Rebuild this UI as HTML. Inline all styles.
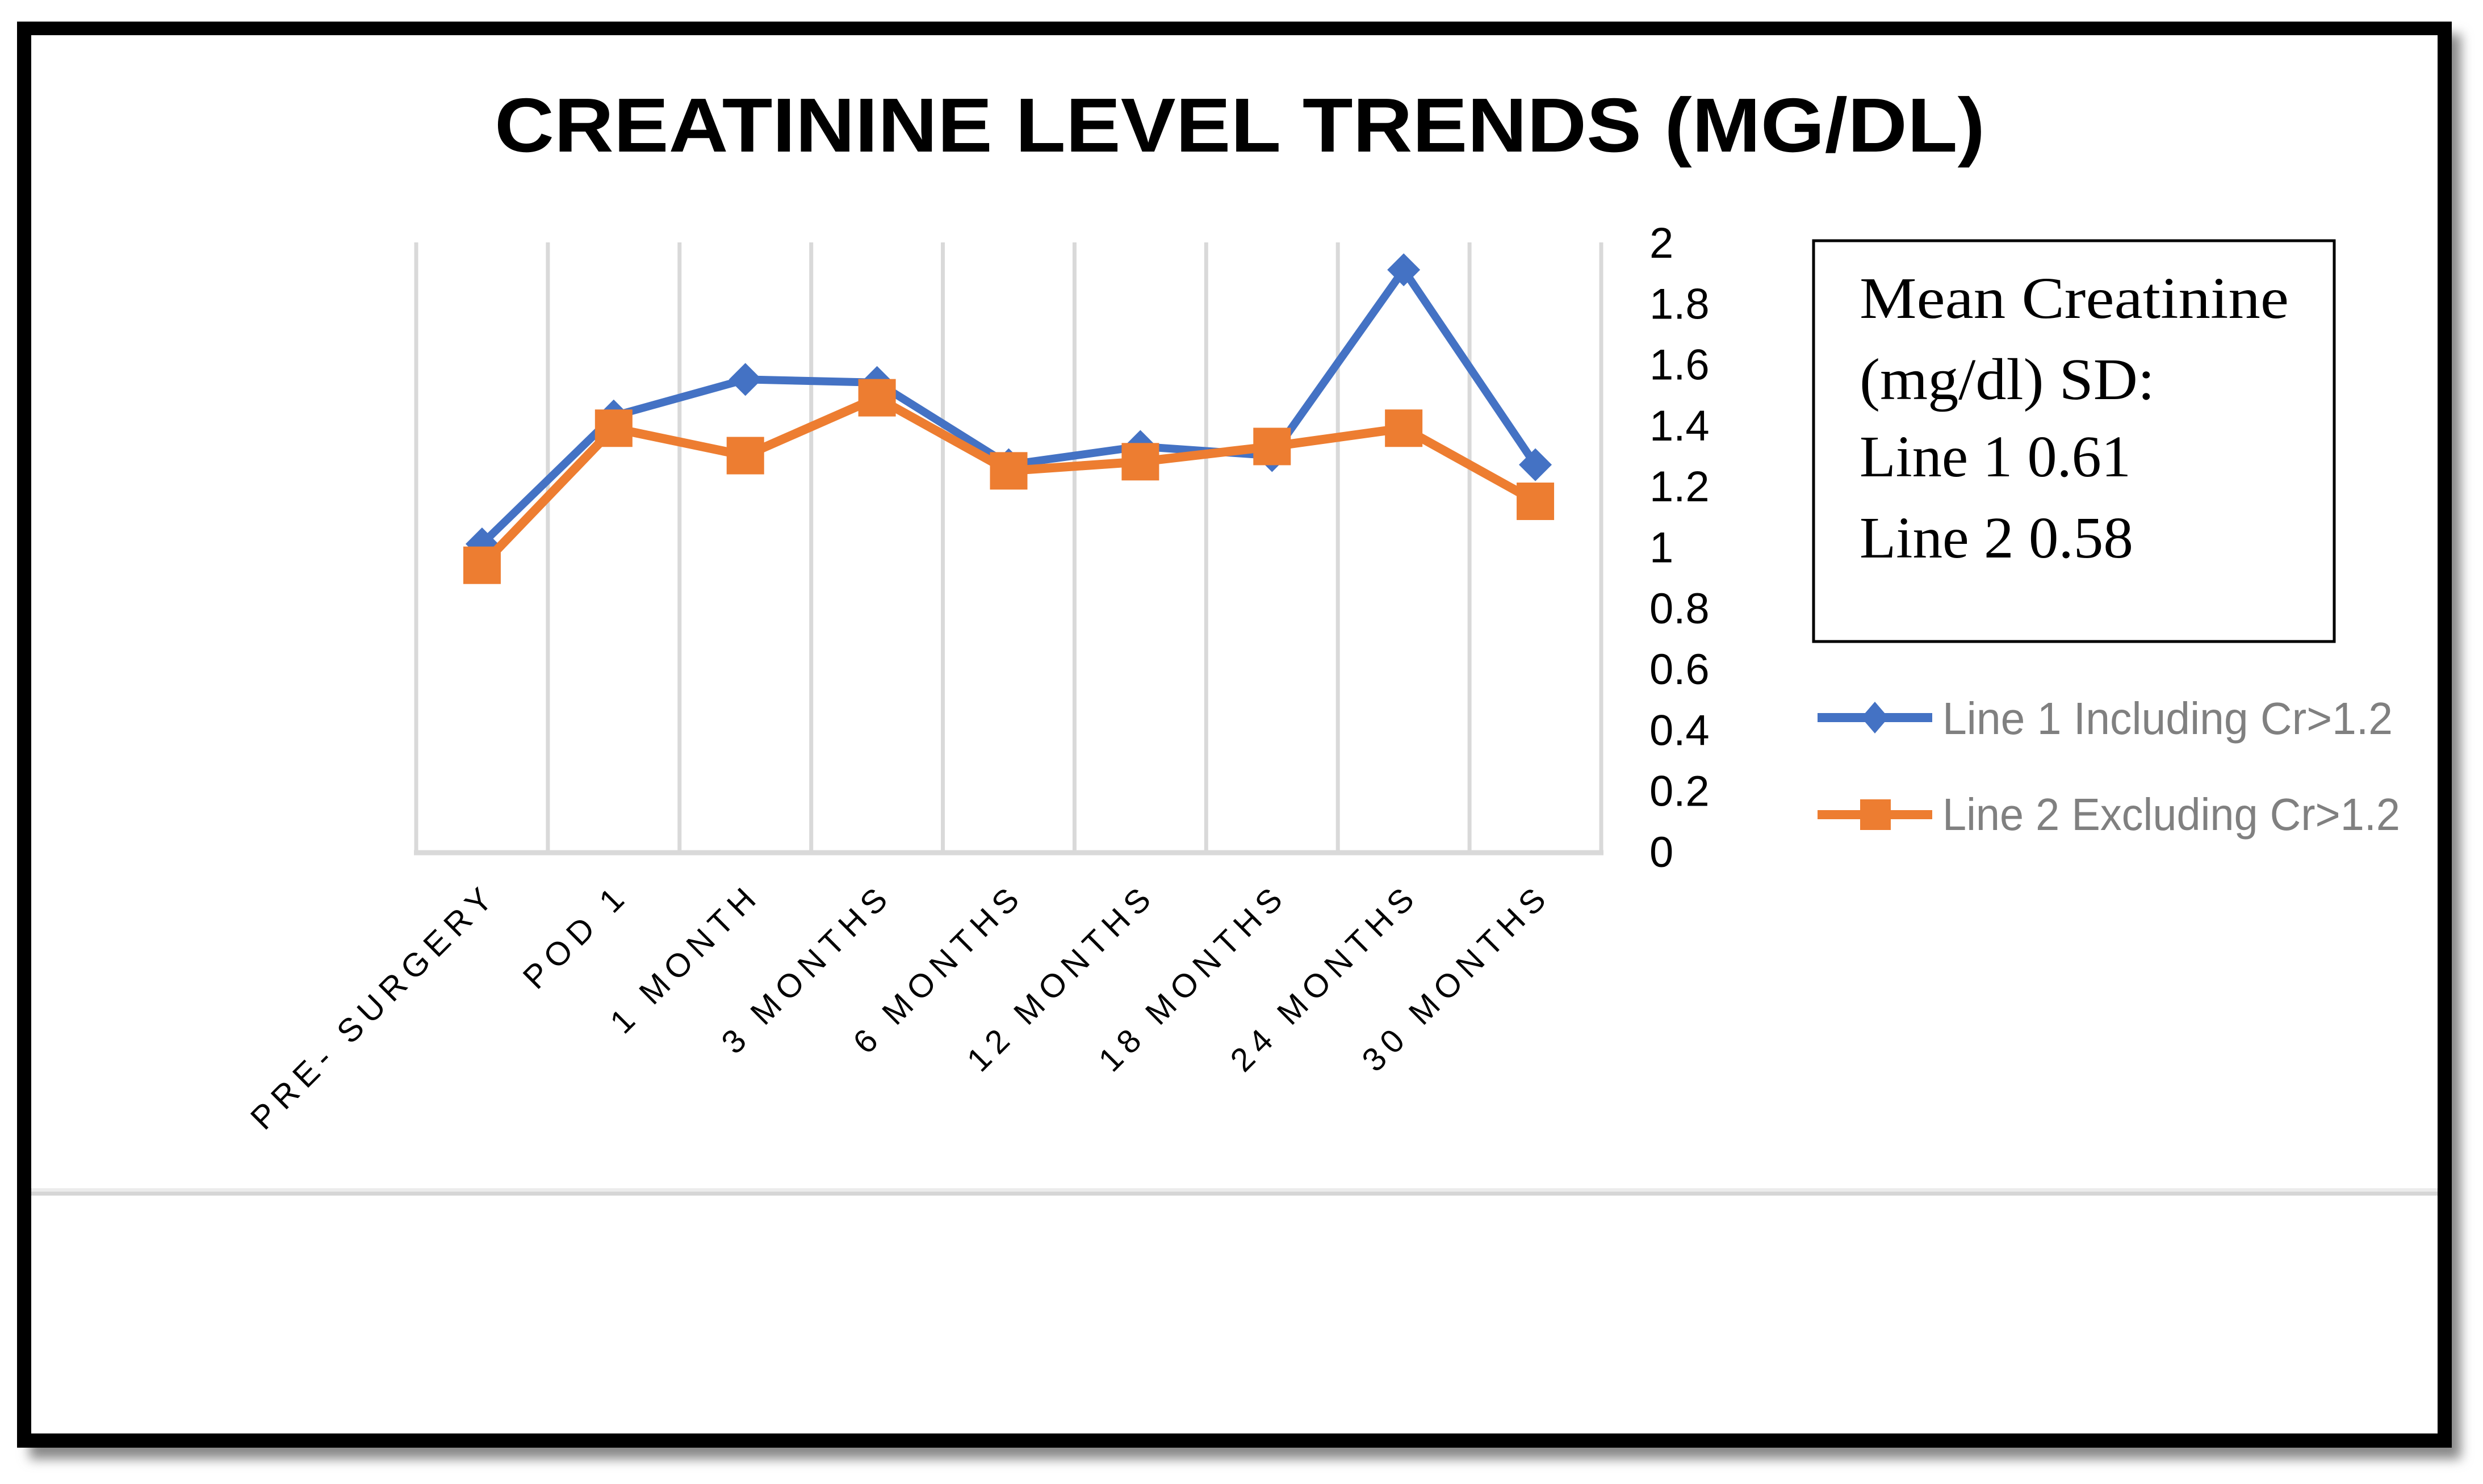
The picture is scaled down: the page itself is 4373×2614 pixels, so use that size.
<!DOCTYPE html>
<html>
<head>
<meta charset="utf-8">
<style>
  html,body{margin:0;padding:0;background:#fff;}
  body{width:4373px;height:2614px;overflow:hidden;position:relative;}
  svg{position:absolute;left:0;top:0;}
</style>
</head>
<body>
<svg id="chart" width="4373" height="2614" viewBox="0 0 4373 2614" xmlns="http://www.w3.org/2000/svg">
  <defs>
    <filter id="shadow" x="-5%" y="-5%" width="110%" height="110%">
      <feGaussianBlur stdDeviation="10"/>
    </filter>
  </defs>
  <rect x="52" y="60" width="4282" height="2510" fill="#888" filter="url(#shadow)"/>
  <rect x="30" y="38" width="4288" height="2512" fill="#000"/>
  <rect x="55" y="62" width="4238" height="2463" fill="#fff"/>
  <rect x="55" y="2093" width="4238" height="6" fill="#ececec"/>
  <rect x="55" y="2099" width="4238" height="7" fill="#d6d6d6"/>

  <text x="871" y="267" font-family="Liberation Sans, sans-serif" font-weight="bold" font-size="135" fill="#000" textLength="2625" lengthAdjust="spacingAndGlyphs">CREATININE  LEVEL TRENDS (MG/DL)</text>

  <g id="grid"></g>
  <g id="yticks"></g>
  <g id="xticks"></g>
  <g id="series"></g>

  <rect x="3194" y="424" width="917" height="706" fill="#fff" stroke="#000" stroke-width="5"/>
  <g font-family="Liberation Serif, serif" font-size="104" fill="#000">
    <text x="3275" y="560" textLength="756" lengthAdjust="spacingAndGlyphs">Mean Creatinine</text>
    <text x="3275" y="703" textLength="520" lengthAdjust="spacingAndGlyphs">(mg/dl) SD:</text>
    <text x="3275" y="839" textLength="478" lengthAdjust="spacingAndGlyphs">Line 1 0.61</text>
    <text x="3275" y="982" textLength="482" lengthAdjust="spacingAndGlyphs">Line 2 0.58</text>
  </g>

  <g>
    <g>
      <line x1="3201" y1="1264" x2="3403" y2="1264" stroke="#4472C4" stroke-width="16"/>
      <polygon points="3302,1236 3326,1264 3302,1292 3278,1264" fill="#4472C4"/>
      <text x="3421" y="1293" font-family="Liberation Sans, sans-serif" font-size="80" fill="#808080" textLength="793" lengthAdjust="spacingAndGlyphs">Line 1 Including Cr&gt;1.2</text>
    </g>
    <g>
      <line x1="3201" y1="1435" x2="3403" y2="1435" stroke="#ED7D31" stroke-width="16"/>
      <rect x="3276" y="1408" width="54" height="54" fill="#ED7D31"/>
      <text x="3421" y="1462" font-family="Liberation Sans, sans-serif" font-size="80" fill="#808080" textLength="806" lengthAdjust="spacingAndGlyphs">Line 2 Excluding Cr&gt;1.2</text>
    </g>
  </g>
</svg>
<script>
const categories = ["PRE- SURGERY","POD 1","1 MONTH","3 MONTHS","6 MONTHS","12 MONTHS","18 MONTHS","24 MONTHS","30 MONTHS"];
const line1Values = [1.01, 1.43, 1.55, 1.54, 1.27, 1.33, 1.30, 1.91, 1.27];
const line2Values = [0.94, 1.39, 1.30, 1.49, 1.25, 1.28, 1.33, 1.39, 1.15];
const yTicks = [0, 0.2, 0.4, 0.6, 0.8, 1, 1.2, 1.4, 1.6, 1.8, 2];
const yTickLabels = ["0","0.2","0.4","0.6","0.8","1","1.2","1.4","1.6","1.8","2"];

const NS = "http://www.w3.org/2000/svg";
const plotL = 733, plotR = 2820, plotB = 1500, plotT = 427;
const yMax = 2;
const band = (plotR - plotL) / categories.length;
function xPos(i){ return plotL + band * (i + 0.5); }
function yPos(v){ return plotB - (v / yMax) * (plotB - plotT); }
function mk(tag, attrs, parent){
  const el = document.createElementNS(NS, tag);
  for (const k in attrs) el.setAttribute(k, attrs[k]);
  parent.appendChild(el);
  return el;
}

const grid = document.getElementById('grid');
for (let i = 0; i <= categories.length; i++) {
  const x = plotL + band * i;
  const g = mk('line', {x1:x, y1:plotT, x2:x, y2:plotB, stroke:'#d9d9d9', 'stroke-width':7}, grid);
  
  
}
const axis = mk('line', {x1:plotL-4, y1:plotB+2, x2:plotR+4, y2:plotB+2, stroke:'#d9d9d9', 'stroke-width':9}, grid);



const yt = document.getElementById('yticks');
yTicks.forEach((v, i) => {
  const t = mk('text', {x:2905, y:yPos(v)+27, 'font-family':'Liberation Sans, sans-serif', 'font-size':76, fill:'#000'}, yt);
  t.textContent = yTickLabels[i];
  
  
});

const xt = document.getElementById('xticks');
categories.forEach((c, i) => {
  const x = xPos(i) + 30, y = 1580;
  const t = mk('text', {x:x, y:y, 'text-anchor':'end', transform:'rotate(-45 '+x+' '+y+')', 'font-family':'Liberation Sans, sans-serif', 'font-size':58, 'letter-spacing':12, fill:'#000'}, xt);
  t.textContent = c;
  
  
});

const series = document.getElementById('series');
function drawLine(vals, color, width, name){
  const pts = vals.map((v, i) => xPos(i) + ',' + yPos(v)).join(' ');
  const pl = mk('polyline', {points:pts, fill:'none', stroke:color, 'stroke-width':width, 'stroke-linejoin':'round'}, series);
  
  
}
drawLine(line1Values, '#4472C4', 14, 'line1-path');
line1Values.forEach((v, i) => {
  const cx = xPos(i), cy = yPos(v), r = 29;
  const d = mk('polygon', {points:`${cx},${cy-r} ${cx+r},${cy} ${cx},${cy+r} ${cx-r},${cy}`, fill:'#4472C4'}, series);
  
  
});
drawLine(line2Values, '#ED7D31', 16, 'line2-path');
line2Values.forEach((v, i) => {
  const cx = xPos(i), cy = yPos(v), s = 66;
  const r = mk('rect', {x:cx-s/2, y:cy-s/2, width:s, height:s, fill:'#ED7D31'}, series);
  
  
});
</script>
</body>
</html>
